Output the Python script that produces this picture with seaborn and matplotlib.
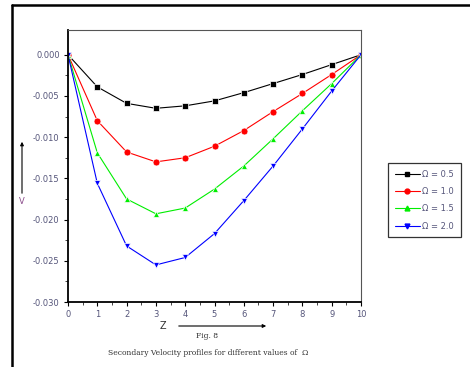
import matplotlib
matplotlib.use("Agg")
import matplotlib.pyplot as plt
from matplotlib.lines import Line2D
from matplotlib.patches import FancyArrowPatch
import seaborn as sns
import pandas as pd
import numpy as np

z = [0, 1, 2, 3, 4, 5, 6, 7, 8, 9, 10]
v_05 = [0.0, -0.0039, -0.0059, -0.0065, -0.0062, -0.0056, -0.0046, -0.0035, -0.0024, -0.0012, 0.0]
v_10 = [0.0, -0.0080, -0.0118, -0.0130, -0.0125, -0.0111, -0.0092, -0.0069, -0.0047, -0.0024, 0.0]
v_15 = [0.0, -0.0119, -0.0175, -0.0193, -0.0186, -0.0163, -0.0135, -0.0102, -0.0068, -0.0035, 0.0]
v_20 = [0.0, -0.0156, -0.0232, -0.0255, -0.0246, -0.0217, -0.0177, -0.0135, -0.0090, -0.0044, 0.0]
labels = ["\u03a9 = 0.5", "\u03a9 = 1.0", "\u03a9 = 1.5", "\u03a9 = 2.0"]
x_ticks = [0, 1, 2, 3, 4, 5, 6, 7, 8, 9, 10]
y_ticks = [0.000, -0.005, -0.010, -0.015, -0.020, -0.025, -0.030]

frames = []
for lab, vals in zip(labels, [v_05, v_10, v_15, v_20]):
    frames.append(pd.DataFrame({"Z": z, "V": vals, "series": lab}))
df = pd.concat(frames, ignore_index=True)

colors = ["#000000", "#ff0000", "#00ee00", "#0000ff"]
markers = ["s", "o", "^", "v"]

sns.set_style("white")
plt.rcParams["font.family"] = ["DejaVu Sans"]

fig = plt.figure(figsize=(4.70, 3.67), dpi=100)
ax = fig.add_axes([68/470, 1 - 302/367, (361 - 68)/470, (302 - 30)/367])

sns.lineplot(data=df, x="Z", y="V", hue="series", style="series",
             palette=colors, markers=markers, dashes=False,
             markersize=5, linewidth=0.8, markeredgewidth=0.5,
             ax=ax, legend=False)

ax.set_xlim(0, 10)
ax.set_ylim(-0.030, 0.003)
ax.set_xticks(x_ticks)
ax.set_xticklabels([str(t) for t in x_ticks])
ax.set_yticks(y_ticks)
ax.set_yticklabels([f"{t:.3f}" for t in y_ticks])
ax.set_xticks(np.arange(0.5, 10, 1.0), minor=True)
ax.set_yticks(np.arange(-0.0275, 0.0, 0.005), minor=True)
tick_col = "#55557a"
ax.tick_params(axis="both", which="major", direction="out", length=3, width=0.8,
               labelsize=6, labelcolor=tick_col, color="#000000",
               bottom=True, left=True, pad=3)
ax.tick_params(axis="both", which="minor", direction="out", length=2, width=0.6,
               bottom=True, left=True)
ax.set_xlabel("")
ax.set_ylabel("")
for s in ["left", "bottom"]:
    ax.spines[s].set_color("#000000")
    ax.spines[s].set_linewidth(1.3)
for s in ["top", "right"]:
    ax.spines[s].set_color("#555555")
    ax.spines[s].set_linewidth(0.8)

# legend
handles = [Line2D([0], [0], color=c, marker=m, markersize=3.5, linewidth=0.8)
           for c, m in zip(colors, markers)]
leg = fig.legend(handles, labels, loc="upper left",
                 bbox_to_anchor=(388/470, 1 - 163/367), fontsize=6,
                 frameon=True, fancybox=False, edgecolor="#000000",
                 handlelength=3.0, borderpad=0.8, labelspacing=1.0,
                 handletextpad=0.3, borderaxespad=0)
leg.get_frame().set_linewidth(0.9)
for t in leg.get_texts():
    t.set_color("#55557a")

# axis labels with arrows
fig.text(22/470, 1 - 201/367, "V", fontsize=6, color="#8a4a8a", ha="center", va="center")
fig.add_artist(FancyArrowPatch(
    (22/470, 1 - 196/367), (22/470, 1 - 139/367), transform=fig.transFigure,
    arrowstyle="-|>", mutation_scale=5, color="black", lw=0.8))
fig.text(163/470, 1 - 326/367, "Z", fontsize=7, color="#333333", ha="center", va="center")
fig.add_artist(FancyArrowPatch(
    (176/470, 1 - 326/367), (269/470, 1 - 326/367), transform=fig.transFigure,
    arrowstyle="-|>", mutation_scale=5, color="black", lw=0.8))
fig.text(207/470, 1 - 336/367, "Fig. 8", fontsize=5.5, color="#333333",
         ha="center", va="center", family="DejaVu Serif")
fig.text(208/470, 1 - 353/367, "Secondary Velocity profiles for different values of  \u03a9",
         fontsize=5.5, color="#333333", ha="center", va="center", family="DejaVu Serif")

# outer frame lines
fig.add_artist(Line2D([12/470, 12/470], [0, 1 - 5/367], transform=fig.transFigure,
                      color="black", lw=1.8))
fig.add_artist(Line2D([12/470, 1], [1 - 5/367, 1 - 5/367], transform=fig.transFigure,
                      color="black", lw=1.8))

fig.savefig("out.png", dpi=100)
